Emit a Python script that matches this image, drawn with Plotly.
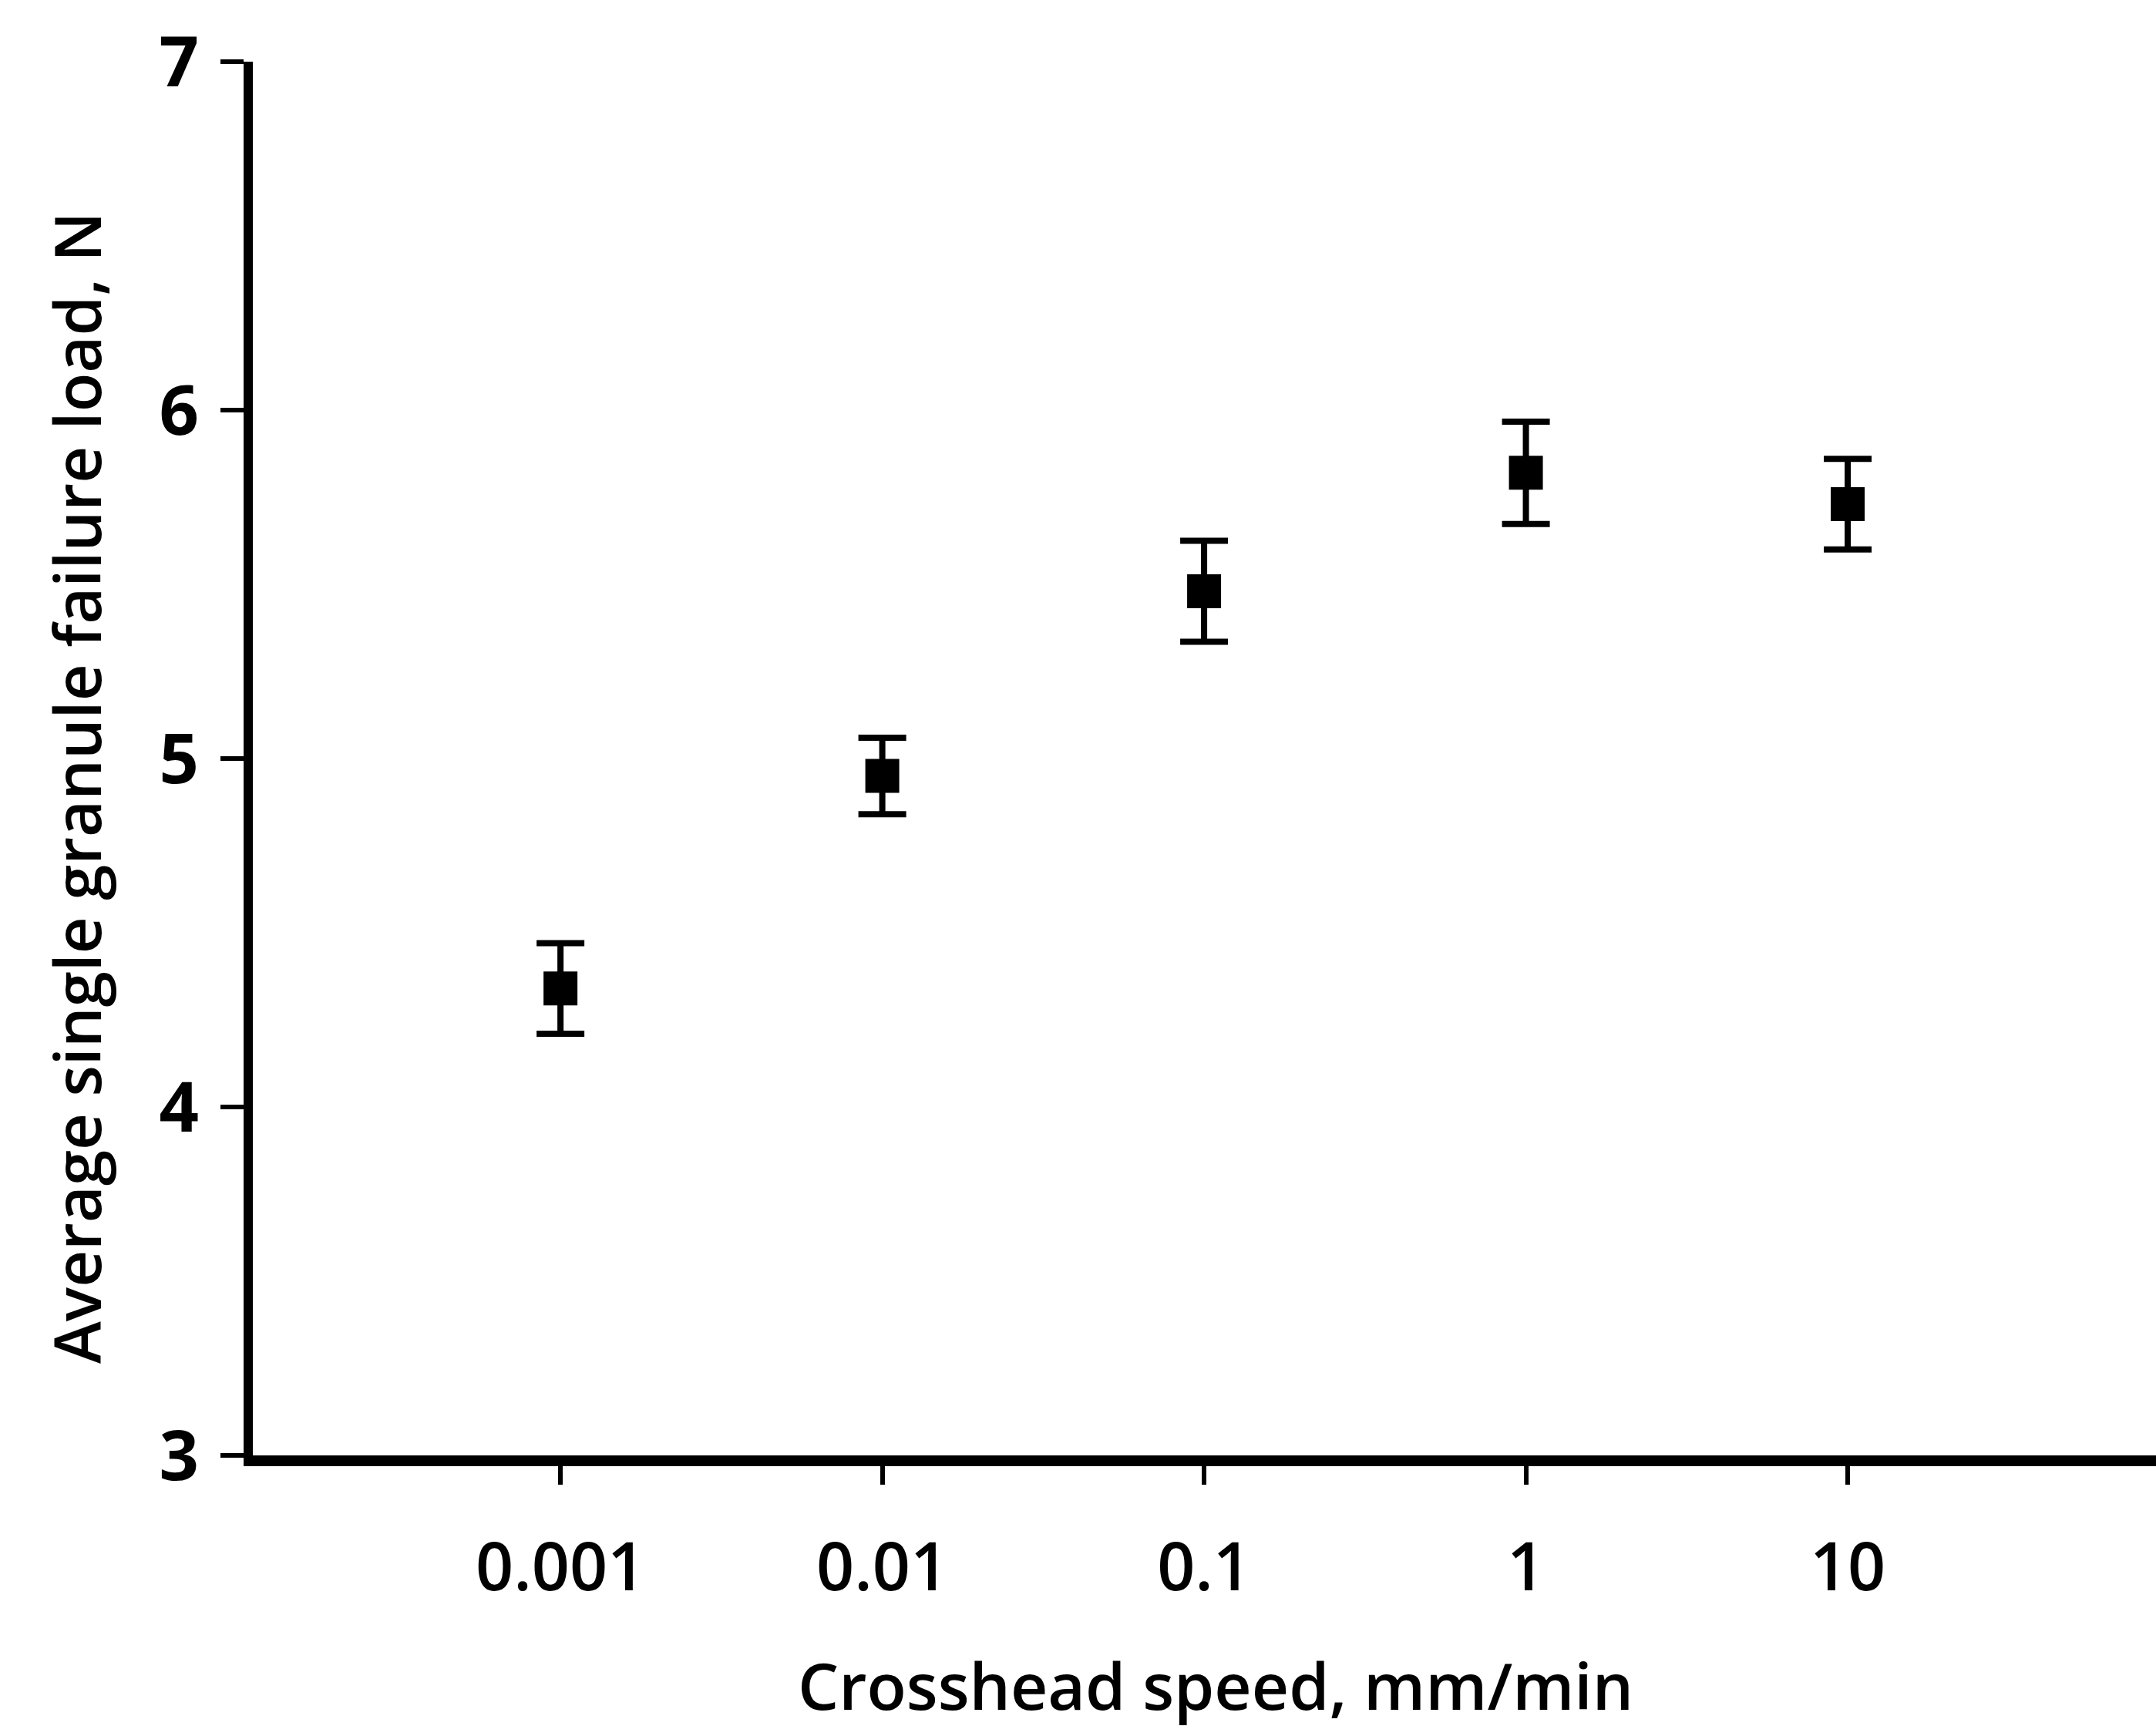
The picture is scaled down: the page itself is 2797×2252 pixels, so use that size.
import plotly.graph_objects as go

# Crosshead speed (mm/min) and mean single-granule failure load (N)
speed = [0.001, 0.01, 0.1, 1, 10]
load = [4.34, 4.95, 5.48, 5.82, 5.73]
load_err = [0.13, 0.11, 0.145, 0.147, 0.13]

x_tick_vals = [0.001, 0.01, 0.1, 1, 10]
x_tick_text = ["0.001", "0.01", "0.1", "1", "10"]
y_tick_vals = [3, 4, 5, 6, 7]

x_title = "Crosshead speed, mm/min"
y_title = "Average single granule failure load, N"

FONT = "Open Sans"

fig = go.Figure(
    go.Scatter(
        x=speed,
        y=load,
        mode="markers",
        marker=dict(symbol="square", size=44, color="black"),
        error_y=dict(type="data", array=load_err, visible=True,
                     color="black", thickness=8, width=31),
        showlegend=False,
    )
)

W, H = 2797, 2252
ML, MR, MT, MB = 328, 0, 80, 364

fig.update_layout(
    width=W, height=H,
    margin=dict(l=ML, r=MR, t=MT, b=MB, pad=0),
    paper_bgcolor="white",
    plot_bgcolor="white",
    font=dict(family=FONT, color="black"),
)

fig.update_xaxes(
    type="log",
    range=[-3.956, 1.958],
    tickvals=x_tick_vals,
    ticktext=x_tick_text,
    showline=True, linecolor="black", linewidth=14,
    ticks="outside", ticklen=24, tickwidth=6, tickcolor="black",
    ticklabelstandoff=34,
    tickfont=dict(family=FONT, size=86, weight=600, color="black"),
    showgrid=False, zeroline=False,
)

fig.update_yaxes(
    range=[3, 7],
    tickvals=y_tick_vals,
    showline=True, linecolor="black", linewidth=12,
    ticks="outside", ticklen=30, tickwidth=6, tickcolor="black",
    ticklabelstandoff=10,
    tickfont=dict(family=FONT, size=90, weight=700, color="black"),
    showgrid=False, zeroline=False,
)

plot_w = W - ML - MR
plot_h = H - MT - MB

fig.add_annotation(
    text=x_title,
    xref="paper", yref="paper",
    x=(1577 - ML) / plot_w, y=(H - MB - 2126) / plot_h,
    xanchor="center", yanchor="top",
    showarrow=False,
    font=dict(family=FONT, size=84, weight=600, color="black"),
)

fig.add_annotation(
    text=y_title,
    xref="paper", yref="paper",
    x=(98 - ML) / plot_w, y=(H - MB - 1022) / plot_h,
    xanchor="center", yanchor="middle",
    textangle=-90,
    showarrow=False,
    font=dict(family=FONT, size=83, weight=600, color="black"),
)

fig.write_html("out.html")
